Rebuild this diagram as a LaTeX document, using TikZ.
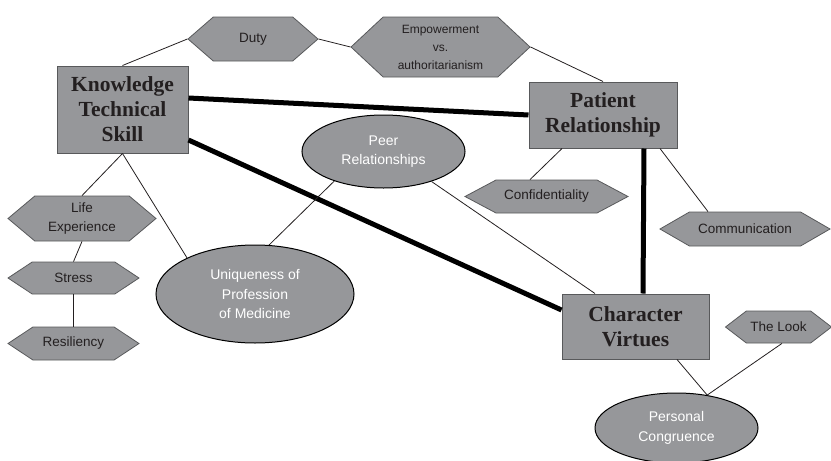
\documentclass[tikz,border=0pt]{standalone}
\usepackage{fontspec}
\setmainfont{Liberation Serif}
\newfontfamily\timesfont{Liberation Serif}
\newfontfamily\arialfont{Liberation Sans}
\usetikzlibrary{shapes.geometric, shapes.symbols}

\definecolor{nodegray}{RGB}{150,151,154}
\definecolor{edgegray}{RGB}{88,89,91}
\definecolor{inkdark}{RGB}{35,31,32}

\tikzset{
  mainbox/.style = {rectangle, draw=edgegray, fill=nodegray, line width=1pt,
    inner sep=0pt, align=center, text=inkdark,
    font=\timesfont\bfseries\fontsize{21.5}{25}\selectfont},
  hexbox/.style = {signal, signal to=west and east, draw=edgegray, fill=nodegray,
    line width=0.8pt, inner sep=0pt, align=center, text=inkdark,
    font=\arialfont\fontsize{13.5}{19}\selectfont},
  ovalbox/.style = {ellipse, draw=black, fill=nodegray, line width=1pt,
    inner sep=0pt, align=center, text=white,
    font=\arialfont\fontsize{14}{19.5}\selectfont},
  thinlink/.style = {draw=inkdark, line width=0.8pt},
  thicklink/.style = {draw=black, line width=5pt},
}

\begin{document}
\begin{tikzpicture}[x=1pt, y=-1pt]
\useasboundingbox (0,0) rectangle (831,461);
% main boxes
\node [mainbox, minimum width=131pt, minimum height=87pt] (know) at (122.5,109.5) {Knowledge\\Technical\\Skill};
\node [mainbox, minimum width=148pt, minimum height=66pt] (patient) at (603,115) {Patient\\Relationship};
\node [mainbox, minimum width=147pt, minimum height=65pt] (charv) at (635.5,326.5) {Character\\Virtues};
% hexagons
\node [hexbox, minimum width=130pt, minimum height=44pt, signal pointer angle=82] (duty) at (253,39) {Duty};
\node [hexbox, minimum width=179pt, minimum height=60pt, signal pointer angle=86,
  font=\arialfont\fontsize{12}{18}\selectfont] (empow) at (440.5,47) {Empowerment\\vs.\\authoritarianism};
\node [hexbox, minimum width=163pt, minimum height=33pt, signal pointer angle=56] (confid) at (546.5,196.5) {Confidentiality};
\node [hexbox, minimum width=170pt, minimum height=34pt, signal pointer angle=60] (comm) at (745,229) {Communication};
\node [hexbox, minimum width=106pt, minimum height=32pt, signal pointer angle=75] (look) at (778.5,327) {The Look};
\node [hexbox, minimum width=148pt, minimum height=45pt, signal pointer angle=80] (life) at (82,218.5) {Life\\Experience};
\node [hexbox, minimum width=131pt, minimum height=32pt, signal pointer angle=67] (stress) at (73.5,278) {Stress};
\node [hexbox, minimum width=131pt, minimum height=33pt, signal pointer angle=67] (resil) at (73.5,343.5) {Resiliency};
% ellipses
\node [ovalbox, minimum width=163pt, minimum height=73pt] (peer) at (383.5,151.5) {Peer\\Relationships};
\node [ovalbox, minimum width=198pt, minimum height=98pt] (uniq) at (255,294) {Uniqueness of\\Profession\\of Medicine};
\node [ovalbox, minimum width=163pt, minimum height=70pt] (congr) at (676.5,428) {Personal\\Congruence};
% strong links
\draw [thicklink] ([yshift=11.5pt]know.east) -- (patient.west);
\draw [thicklink] ([yshift=-30.5pt]know.east) -- ([yshift=16.5pt]charv.west);
\draw [thicklink] ([xshift=41pt]patient.south) -- ([xshift=7.5pt]charv.north);
% weak links
\draw [thinlink] (know.north) -- (duty.west);
\draw [thinlink] (duty.east) -- (empow.west);
\draw [thinlink] (empow.east) -- (patient.north);
\draw [thinlink] ([xshift=-41pt]patient.south) -- ([xshift=-16.5pt]confid.north);
\draw [thinlink] ([xshift=57pt]patient.south) -- ([xshift=-37pt]comm.north);
\draw [thinlink] (peer.-32) -- ([xshift=-40.5pt]charv.north);
\draw [thinlink] (peer.-149) -- (uniq.74);
\draw [thinlink] (know.south) -- (life.north);
\draw [thinlink] (know.south) -- (uniq.152);
\draw [thinlink] (life.south) -- (stress.north);
\draw [thinlink] (stress.south) -- (resil.north);
\draw [thinlink] ([xshift=41.5pt]charv.south) -- (congr.47);
\draw [thinlink] ([xshift=3.5pt]look.south) -- (congr.47);
\end{tikzpicture}
\end{document}
